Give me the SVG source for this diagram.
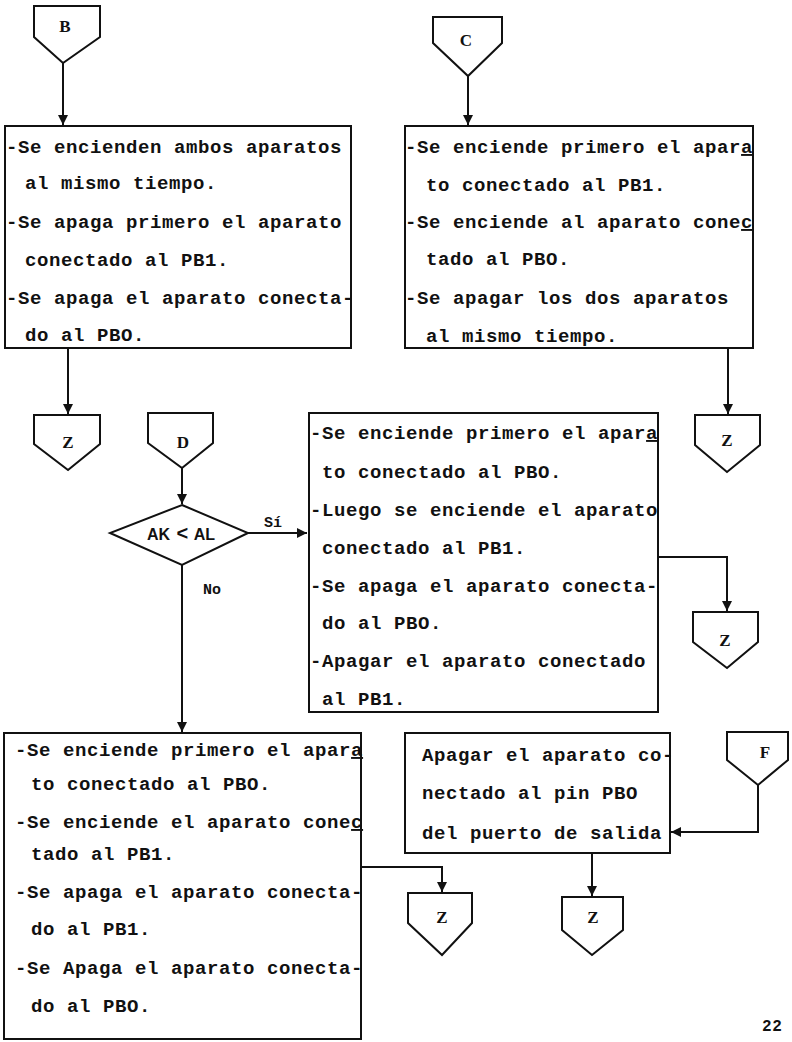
<svg xmlns="http://www.w3.org/2000/svg" width="792" height="1042" viewBox="0 0 792 1042">
<defs>
<marker id="ah" viewBox="0 0 10 10" refX="10" refY="5" markerWidth="10" markerHeight="11" markerUnits="userSpaceOnUse" orient="auto">
<path d="M0,0 L10,5 L0,10 z" fill="#111"/>
</marker>
<style>
.box{fill:none;stroke:#111;stroke-width:2}
.sh{fill:none;stroke:#111;stroke-width:2;stroke-linejoin:miter}
.ln{fill:none;stroke:#111;stroke-width:2}
.t{font-family:"Liberation Mono",monospace;font-size:19px;letter-spacing:0.6px;fill:#111;font-weight:bold}
.c{font-family:"Liberation Serif",serif;font-size:17px;fill:#111;font-weight:bold;text-anchor:middle}
.u{text-decoration:underline}
</style>
</defs>
<rect width="792" height="1042" fill="#fff"/>

<g id="connectors">
<path class="ln" d="M63,63 V125" marker-end="url(#ah)"/>
<path class="ln" d="M68,348 V414" marker-end="url(#ah)"/>
<path class="ln" d="M468,76 V125" marker-end="url(#ah)"/>
<path class="ln" d="M728,348 V414" marker-end="url(#ah)"/>
<path class="ln" d="M182,468 V504" marker-end="url(#ah)"/>
<path class="ln" d="M248,533 H307" marker-end="url(#ah)"/>
<path class="ln" d="M658,557 H727 V611" marker-end="url(#ah)"/>
<path class="ln" d="M182,565 V732" marker-end="url(#ah)"/>
<path class="ln" d="M361,867 H442 V892" marker-end="url(#ah)"/>
<path class="ln" d="M592,853 V896" marker-end="url(#ah)"/>
<path class="ln" d="M758,785 V832 H671" marker-end="url(#ah)"/>
<text class="c" x="273" y="527" style="font-size:15px;font-family:'Liberation Mono',monospace">Sí</text>
<text class="c" x="212" y="594" style="font-size:15px;font-family:'Liberation Mono',monospace">No</text>
</g>

<g id="conn-B">
<path class="sh" d="M34,6 H100 V37 L63,63 L34,37 Z"/>
<text class="c" x="65" y="32">B</text>
</g>
<g id="conn-C">
<path class="sh" d="M433,17 H502 V43 L468,76 L433,43 Z"/>
<text class="c" x="466" y="46">C</text>
</g>
<g id="conn-Z1">
<path class="sh" d="M34,415 H100 V444 L68,470 L34,444 Z"/>
<text class="c" x="68" y="448">Z</text>
</g>
<g id="conn-D">
<path class="sh" d="M148,413 H213 V443 L182,468 L148,443 Z"/>
<text class="c" x="183" y="448">D</text>
</g>
<g id="conn-Z2">
<path class="sh" d="M695,415 H760 V445 L727,472 L695,445 Z"/>
<text class="c" x="727" y="446">Z</text>
</g>
<g id="conn-Z3">
<path class="sh" d="M693,612 H758 V642 L727,668 L693,642 Z"/>
<text class="c" x="725" y="646">Z</text>
</g>
<g id="conn-Z4">
<path class="sh" d="M408,893 H472 V923 L442,955 L408,923 Z"/>
<text class="c" x="442" y="923">Z</text>
</g>
<g id="conn-Z5">
<path class="sh" d="M562,897 H623 V930 L592,955 L562,930 Z"/>
<text class="c" x="593" y="923">Z</text>
</g>
<g id="conn-F">
<path class="sh" d="M727,732 H788 V760 L758,785 L727,760 Z"/>
<text class="c" x="765" y="758">F</text>
</g>

<g id="decision">
<path class="sh" d="M182,505 L248,533 L182,565 L110,533 Z"/>
<text class="c" x="181" y="540" style="font-size:16px;font-family:'Liberation Sans',sans-serif">AK<tspan style="font-size:20px" dx="1"> &lt; </tspan>AL</text>
</g>

<g id="box-B">
<rect class="box" x="5" y="126" width="346" height="222"/>
<text class="t" x="6" y="153">-Se encienden ambos aparatos</text>
<text class="t" x="25" y="189">al mismo tiempo.</text>
<text class="t" x="6" y="228">-Se apaga primero el aparato</text>
<text class="t" x="25" y="266">conectado al PB1.</text>
<text class="t" x="6" y="304">-Se apaga el aparato conecta-</text>
<text class="t" x="25" y="341">do al PBO.</text>
</g>

<g id="box-C">
<rect class="box" x="405" y="126" width="348" height="222"/>
<text class="t" x="405" y="153">-Se enciende primero el apar<tspan class="u">a</tspan></text>
<text class="t" x="426" y="191">to conectado al PB1.</text>
<text class="t" x="405" y="228">-Se enciende al aparato cone<tspan class="u">c</tspan></text>
<text class="t" x="426" y="265">tado al PBO.</text>
<text class="t" x="405" y="304">-Se apagar los dos aparatos</text>
<text class="t" x="426" y="342">al mismo tiempo.</text>
</g>

<g id="box-D">
<rect class="box" x="309" y="413" width="349" height="299"/>
<text class="t" x="310" y="439">-Se enciende primero el apar<tspan class="u">a</tspan></text>
<text class="t" x="322" y="478">to conectado al PBO.</text>
<text class="t" x="310" y="516">-Luego se enciende el aparato</text>
<text class="t" x="322" y="554">conectado al PB1.</text>
<text class="t" x="310" y="592">-Se apaga el aparato conecta-</text>
<text class="t" x="322" y="629">do al PBO.</text>
<text class="t" x="310" y="667">-Apagar el aparato conectado</text>
<text class="t" x="322" y="705">al PB1.</text>
</g>

<g id="box-BL">
<rect class="box" x="4" y="733" width="357" height="306"/>
<text class="t" x="15" y="756">-Se enciende primero el apar<tspan class="u">a</tspan></text>
<text class="t" x="31" y="790">to conectado al PBO.</text>
<text class="t" x="15" y="828">-Se enciende el aparato cone<tspan class="u">c</tspan></text>
<text class="t" x="31" y="860">tado al PB1.</text>
<text class="t" x="15" y="898">-Se apaga el aparato conecta-</text>
<text class="t" x="31" y="935">do al PB1.</text>
<text class="t" x="15" y="974">-Se Apaga el aparato conecta-</text>
<text class="t" x="31" y="1012">do al PBO.</text>
</g>

<g id="box-F">
<rect class="box" x="405" y="733" width="265" height="120"/>
<text class="t" x="422" y="761">Apagar el aparato co-</text>
<text class="t" x="422" y="799">nectado al pin PBO</text>
<text class="t" x="422" y="839">del puerto de salida</text>
</g>

<text class="t" x="762" y="1031" style="font-size:16px">22</text>
</svg>
